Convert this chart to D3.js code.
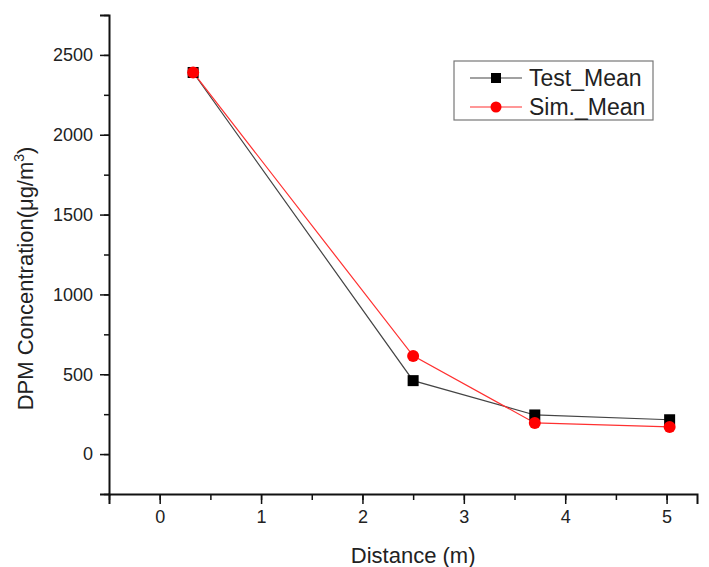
<!DOCTYPE html>
<html>
<head>
<meta charset="utf-8">
<script src="https://cdn.jsdelivr.net/npm/d3@7"></script>
<style>
    body { margin: 0; background: #fff; }
    svg text { font-family: "Liberation Sans", Arial, sans-serif; fill: #222; }
</style>
</head>
<body>
<div id="chart"></div>
<script>
// values
const distances = [0.33, 2.5, 3.7, 5.03];
const testMean = [2390, 460, 245, 215];
const simMean = [2390, 615, 195, 170];
const xTicks = [0, 1, 2, 3, 4, 5];
const yTicks = [0, 500, 1000, 1500, 2000, 2500];
const seriesNames = ["Test_Mean", "Sim._Mean"];

let margin = { top: 15, right: 12, bottom: 73, left: 109 };
let width = 709 - margin.left - margin.right;
let height = 567 - margin.top - margin.bottom;

let svg = d3.select("#chart").append("svg")
    .attr("width", 709)
    .attr("height", 567)
    .append("g")
    .attr("transform", "translate(" + margin.left + "," + margin.top + ")");

let x = d3.scaleLinear().domain([-0.5, 5.3]).range([0, width]);
let y = d3.scaleLinear().domain([-250, 2750]).range([height, 0]);

// minor ticks first, then major with labels
svg.append("g")
    .attr("transform", "translate(0," + height + ")")
    .call(d3.axisBottom(x).tickValues(d3.range(-0.5, 5.31, 0.5)).tickSize(6).tickFormat(""))
    .call(g => g.select(".domain").remove());
svg.append("g")
    .call(d3.axisLeft(y).tickValues(d3.range(-250, 2751, 250)).tickSize(5).tickFormat(""))
    .call(g => g.select(".domain").remove());

let xAxis = svg.append("g")
    .attr("transform", "translate(0," + height + ")")
    .call(d3.axisBottom(x).tickValues(xTicks).tickSize(10).tickPadding(6).tickFormat(d3.format("d")));
let yAxis = svg.append("g")
    .call(d3.axisLeft(y).tickValues(yTicks).tickSize(9).tickPadding(7).tickFormat(d3.format("d")));

svg.selectAll(".tick line").attr("stroke", "#111").attr("stroke-width", 1.5);
svg.selectAll(".domain").attr("stroke", "#111").attr("stroke-width", 2);
svg.selectAll(".tick text").style("font-size", "18px").attr("fill", "#222");

// axis titles
svg.append("text")
    .attr("x", x(2.5))
    .attr("y", height + 69)
    .attr("text-anchor", "middle")
    .style("font-size", "22px")
    .text("Distance (m)");

let yTitle = svg.append("text")
    .attr("transform", "translate(" + (-76) + "," + (y(1100)) + ") rotate(-90)")
    .attr("text-anchor", "middle")
    .style("font-size", "22px");
yTitle.append("tspan").text("DPM Concentration(μg/m");
yTitle.append("tspan").attr("dy", -9).style("font-size", "14px").text("3");
yTitle.append("tspan").attr("dy", 9).text(")");

// lines
const line = d3.line()
    .x((d, i) => x(distances[i]))
    .y(d => y(d));

svg.append("path")
    .attr("d", line(testMean))
    .attr("fill", "none")
    .attr("stroke", "#444")
    .attr("stroke-width", 1.2);

svg.append("path")
    .attr("d", line(simMean))
    .attr("fill", "none")
    .attr("stroke", "#ff3030")
    .attr("stroke-width", 1.2);

svg.selectAll(".sq")
    .data(testMean)
    .enter()
    .append("rect")
    .attr("class", "sq")
    .attr("x", (d, i) => x(distances[i]) - 5.5)
    .attr("y", d => y(d) - 5.5)
    .attr("width", 11)
    .attr("height", 11)
    .attr("fill", "#000");

svg.selectAll(".dot")
    .data(simMean)
    .enter()
    .append("circle")
    .attr("class", "dot")
    .attr("cx", (d, i) => x(distances[i]))
    .attr("cy", d => y(d))
    .attr("r", 6)
    .attr("fill", "#ff0000");

// legend
let legend = svg.append("g").attr("transform", "translate(" + (454 - margin.left) + "," + (61 - margin.top) + ")");
legend.append("rect")
    .attr("width", 199)
    .attr("height", 59)
    .attr("fill", "#fff")
    .attr("stroke", "#777")
    .attr("stroke-width", 1.2);

seriesNames.forEach(function(name, i) {
    let ly = 17 + i * 29;
    let col = i === 0 ? "#444" : "#ff3030";
    legend.append("line")
        .attr("x1", 16).attr("x2", 68)
        .attr("y1", ly).attr("y2", ly)
        .attr("stroke", col)
        .attr("stroke-width", 1.2);
    if (i === 0) {
        legend.append("rect")
            .attr("x", 42 - 5).attr("y", ly - 5)
            .attr("width", 10).attr("height", 10)
            .attr("fill", "#000");
    } else {
        legend.append("circle")
            .attr("cx", 42).attr("cy", ly)
            .attr("r", 5.5)
            .attr("fill", "#ff0000");
    }
    legend.append("text")
        .attr("x", 75)
        .attr("y", ly + 8)
        .style("font-size", "23px")
        .text(name);
});
</script>
</body>
</html>
